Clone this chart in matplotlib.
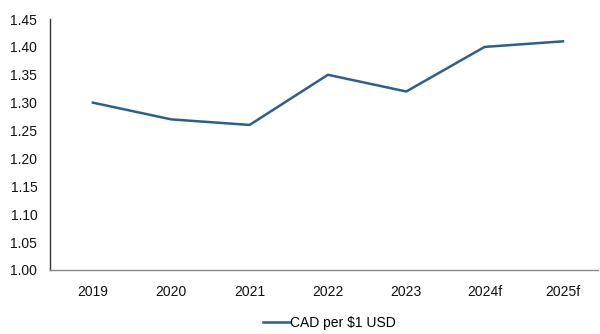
import matplotlib
matplotlib.use("Agg")
import matplotlib.pyplot as plt

years = ["2019", "2020", "2021", "2022", "2023", "2024f", "2025f"]
cad_per_usd = [1.30, 1.27, 1.26, 1.35, 1.32, 1.40, 1.41]
yticks = [1.00, 1.05, 1.10, 1.15, 1.20, 1.25, 1.30, 1.35, 1.40, 1.45]

plt.rcParams['font.family'] = ['Liberation Sans', 'DejaVu Sans']

fig = plt.figure(figsize=(6, 3.34), dpi=100)
ax = fig.add_axes([0.083, 0.192, 0.914, 0.751])

x = range(len(years))
ax.plot(x, cad_per_usd, color='#2d5f8b', linewidth=1.8, label='CAD per $1 USD')

ax.set_xlim(-0.55, len(years) - 0.55)
ax.set_ylim(1.0, 1.45)
ax.set_yticks(yticks)
ax.set_yticklabels([f"{v:.2f}" for v in yticks], fontsize=10, color='#111111')
ax.set_xticks(list(x))
ax.set_xticklabels(years, fontsize=10, color='#111111')
ax.tick_params(length=0)
ax.tick_params(axis='x', pad=11)
ax.tick_params(axis='y', pad=9)

for s in ['top', 'right']:
    ax.spines[s].set_visible(False)
ax.spines['left'].set_color('#333333')
ax.spines['left'].set_linewidth(1.0)
ax.spines['bottom'].set_color('#888888')
ax.spines['bottom'].set_linewidth(1.0)
ax.spines['bottom'].set_linestyle((0, (6, 1)))

ax.legend(loc='upper center', bbox_to_anchor=(0.51, -0.135), frameon=False,
          fontsize=10, handlelength=1.9, handletextpad=0.0)

fig.savefig("out.png", dpi=100)
